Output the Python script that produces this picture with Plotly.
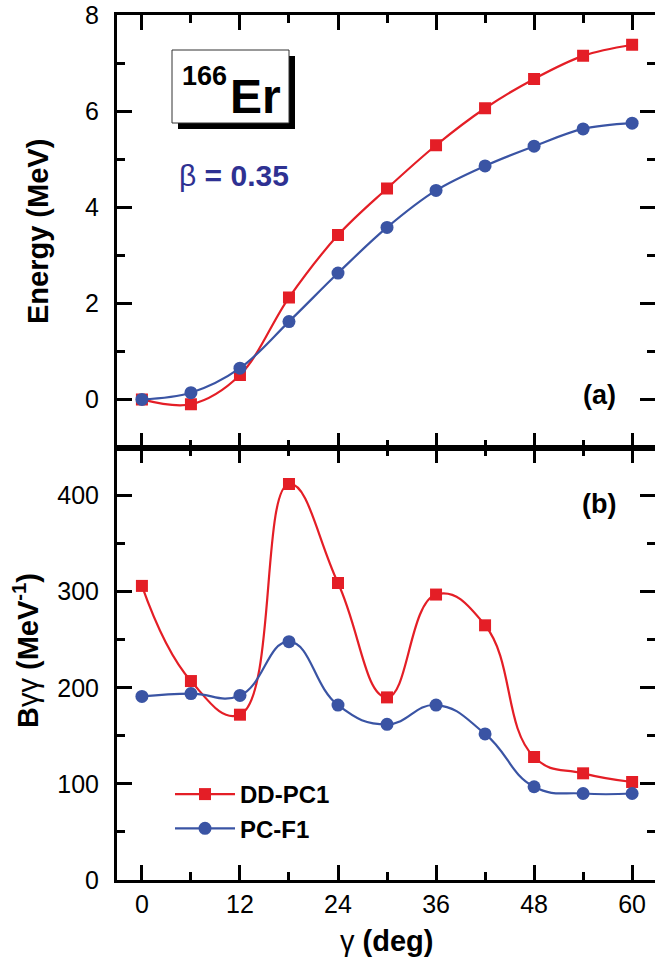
import plotly.graph_objects as go

# ---------------- data ----------------
gamma = [0, 6, 12, 18, 24, 30, 36, 42, 48, 54, 60]

energy_ddpc1 = [0.0, -0.10, 0.51, 2.12, 3.42, 4.39, 5.29, 6.06, 6.67, 7.15, 7.38]
energy_pcf1 = [0.0, 0.14, 0.65, 1.62, 2.63, 3.58, 4.35, 4.86, 5.27, 5.63, 5.75]

bgg_ddpc1 = [306, 207, 172, 412, 309, 190, 297, 265, 128, 111, 102]
bgg_pcf1 = [191, 194, 192, 248, 182, 162, 182, 152, 97, 90, 90]

x_ticks = [0, 12, 24, 36, 48, 60]
e_ticks = [0, 2, 4, 6, 8]
b_ticks = [0, 100, 200, 300, 400]

series_names = ["DD-PC1", "PC-F1"]

# ---------------- style ----------------
W, H = 655, 969
ML, MR, MT, MB = 117, 0, 15, 89
RED = "#E41E26"
BLUE = "#3A54A4"
NAVY = "#2E3192"
FONT = "Liberation Sans, Arial, sans-serif"


def px(xp):
    return (xp - ML) / (W - ML - MR)


def py(yp):
    return (H - MB - yp) / (H - MT - MB)


fig = go.Figure()

# top panel (energy)
fig.add_trace(go.Scatter(x=gamma, y=energy_ddpc1, xaxis="x2", yaxis="y2",
                         mode="lines+markers", name=series_names[0], showlegend=False,
                         line=dict(color=RED, width=2.2, shape="spline", smoothing=1.0),
                         marker=dict(symbol="square", size=12, color=RED)))
fig.add_trace(go.Scatter(x=gamma, y=energy_pcf1, xaxis="x2", yaxis="y2",
                         mode="lines+markers", name=series_names[1], showlegend=False,
                         line=dict(color=BLUE, width=2.2, shape="spline", smoothing=1.0),
                         marker=dict(symbol="circle", size=13, color=BLUE)))
# bottom panel (B_gg)
fig.add_trace(go.Scatter(x=gamma, y=bgg_ddpc1, xaxis="x", yaxis="y",
                         mode="lines+markers", name=series_names[0],
                         line=dict(color=RED, width=2.2, shape="spline", smoothing=1.3),
                         marker=dict(symbol="square", size=12, color=RED)))
fig.add_trace(go.Scatter(x=gamma, y=bgg_pcf1, xaxis="x", yaxis="y",
                         mode="lines+markers", name=series_names[1],
                         line=dict(color=BLUE, width=2.2, shape="spline", smoothing=1.3),
                         marker=dict(symbol="circle", size=13, color=BLUE)))

tickfont = dict(family=FONT, size=25, color="black")
minor_style = dict(ticks="inside", ticklen=8, tickwidth=2.5, tickcolor="black", showgrid=False)
common_x = dict(range=[-3.05, 62.8], tickvals=x_ticks, ticks="inside", ticklen=15,
                tickwidth=2.5, tickcolor="black", showline=True, linewidth=3,
                linecolor="black", mirror="ticks", showgrid=False, zeroline=False,
                minor=dict(dtick=6, tick0=0, **minor_style),
                tickfont=tickfont)

common_y = dict(ticks="inside", ticklen=15, tickwidth=2.5, tickcolor="black",
                showline=True, linewidth=3, linecolor="black", showgrid=False,
                zeroline=False, tickfont=tickfont)

right_y = dict(side="right", ticks="inside", ticklen=15, tickwidth=2.5, tickcolor="black",
               showticklabels=False, showline=False, showgrid=False, zeroline=False)

fig.update_layout(
    width=W, height=H,
    margin=dict(l=ML, r=MR, t=MT, b=MB),
    paper_bgcolor="white", plot_bgcolor="white",
    font=dict(family=FONT, color="black"),
    xaxis=dict(anchor="y", domain=[0, 1], ticklabelstandoff=0, **common_x),
    xaxis2=dict(anchor="y2", domain=[0, 1], matches="x", showticklabels=False, **common_x),
    yaxis=dict(domain=[0, 0.5], range=[0, 450], tickvals=b_ticks, ticklabelstandoff=10,
               minor=dict(dtick=50, tick0=0, **minor_style), **common_y),
    yaxis2=dict(domain=[0.5, 1], range=[-1, 8], tickvals=e_ticks, ticklabelstandoff=10,
                anchor="x2", minor=dict(dtick=1, tick0=0, **minor_style), **common_y),
    # right-side tick-only axes (the right spine falls outside the picture)
    yaxis3=dict(overlaying="y", anchor="x", range=[0, 450], tickvals=b_ticks,
                minor=dict(dtick=50, tick0=0, **minor_style), **right_y),
    yaxis4=dict(overlaying="y2", anchor="x2", range=[-1, 8], tickvals=e_ticks,
                minor=dict(dtick=1, tick0=0, **minor_style), **right_y),
    legend=dict(x=px(170), y=py(772), xanchor="left", yanchor="top",
                bgcolor="rgba(0,0,0,0)",
                font=dict(family=FONT, size=24, color="black", weight="bold"),
                itemwidth=60, tracegroupgap=0),
)

# empty helper traces so the right tick axes render
fig.add_trace(go.Scatter(x=[None], y=[None], xaxis="x", yaxis="y3", showlegend=False, hoverinfo="skip"))
fig.add_trace(go.Scatter(x=[None], y=[None], xaxis="x2", yaxis="y4", showlegend=False, hoverinfo="skip"))

# 166Er box with shadow
fig.add_shape(type="rect", xref="paper", yref="paper", x0=px(178), x1=px(295),
              y0=py(129), y1=py(56), fillcolor="black", line=dict(width=0), layer="above")
fig.add_shape(type="rect", xref="paper", yref="paper", x0=px(172), x1=px(289),
              y0=py(123), y1=py(50), fillcolor="white", line=dict(color="#333333", width=1),
              layer="above")

ann = []
ann.append(dict(text="<b>166</b>", x=px(204), y=py(76), xanchor="center", yanchor="middle",
                font=dict(family=FONT, size=27, color="black")))
ann.append(dict(text="<b>Er</b>", x=px(255), y=py(97), xanchor="center", yanchor="middle",
                font=dict(family=FONT, size=48, color="black")))
ann.append(dict(text="β<b> = 0.35</b>", x=px(234), y=py(176), xanchor="center", yanchor="middle",
                font=dict(family=FONT, size=30, color=NAVY)))
ann.append(dict(text="<b>(a)</b>", x=px(599), y=py(395), xanchor="center", yanchor="middle",
                font=dict(family=FONT, size=27, color="black")))
ann.append(dict(text="<b>(b)</b>", x=px(599), y=py(504), xanchor="center", yanchor="middle",
                font=dict(family=FONT, size=27, color="black")))
# axis titles
ann.append(dict(text="<b>Energy (MeV)</b>", x=px(38), y=py(232), xanchor="center", yanchor="middle",
                textangle=-90, font=dict(family=FONT, size=29, color="black")))
ann.append(dict(text="<b>B</b>γγ<b> (MeV<sup>-1</sup>)</b>", x=px(26), y=py(651), xanchor="center",
                yanchor="middle", textangle=-90, font=dict(family=FONT, size=29, color="black")))
ann.append(dict(text="γ<b> (deg)</b>", x=px(386.5), y=py(941), xanchor="center", yanchor="middle",
                font=dict(family=FONT, size=29, color="black")))
for a in ann:
    a.update(xref="paper", yref="paper", showarrow=False)
fig.update_layout(annotations=ann)

fig.write_html("out.html", post_script="document.body.style.margin='0';",
               config={"displayModeBar": False})
